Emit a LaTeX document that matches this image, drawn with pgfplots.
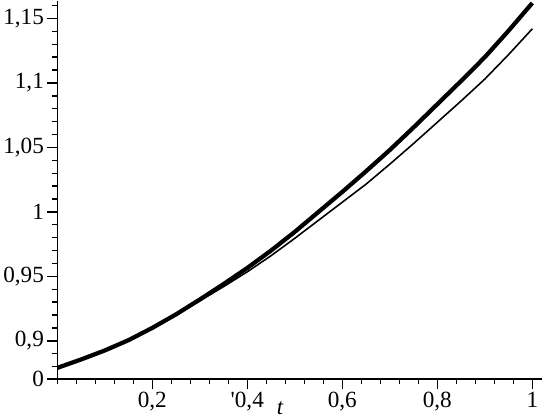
\documentclass[border=0pt]{standalone}
\usepackage{fontspec}
\setmainfont{Liberation Serif}
\usepackage{pgfplots}
\pgfplotsset{compat=1.18}

% values, t against the two solutions
\pgfplotstableread{
t     thick   thin
0.00  0.8790  0.8790
0.05  0.8855  0.8855
0.10  0.8925  0.8925
0.15  0.9005  0.9005
0.20  0.9100  0.9098
0.25  0.9205  0.9200
0.30  0.9320  0.9310
0.35  0.9440  0.9420
0.40  0.9565  0.9535
0.45  0.9700  0.9660
0.50  0.9845  0.9795
0.55  1.0000  0.9935
0.60  1.0155  1.0075
0.65  1.0315  1.0215
0.70  1.0480  1.0370
0.75  1.0655  1.0530
0.80  1.0835  1.0695
0.85  1.1015  1.0860
0.90  1.1200  1.1030
0.95  1.1405  1.1220
1.00  1.1620  1.1420
}\datatable

\begin{document}
\begin{tikzpicture}
\begin{axis}[
    scale only axis,
    width=490bp, height=382bp,
    xmin=0, xmax=1.021,
    ymin=0.8705, ymax=1.1638,
    axis lines=left,
    axis line style={-, line width=1.4pt},
    tick align=outside,
    major tick length=10bp,
    minor tick length=5bp,
    every tick/.style={black, line width=1.4pt},
    xtick={0.2,0.4,0.6,0.8,1},
    xticklabels={{0,2},{\textquotesingle0,4},{0,6},{0,8},1},
    minor xtick={0,0.04,...,1.02},
    ytick={0.8705,0.9,0.95,1,1.05,1.1,1.15},
    yticklabels={0,{0,9},{0,95},1,{1,05},{1,1},{1,15}},
    minor ytick={0.88,0.89,...,1.165},
    ticklabel style={font=\fontsize{23.5}{26}\selectfont},
    xlabel={\textit{t}},
    xlabel style={at={(axis description cs:0.46,0)}, anchor=north, yshift=-20bp, font=\fontsize{23}{25}\selectfont},
    clip=true,
]
\addplot[black, line width=4.3pt, line join=round] table[x=t, y=thick] {\datatable};
\addplot[black, line width=1.6pt, line join=round] table[x=t, y=thin] {\datatable};
\end{axis}
\end{tikzpicture}
\end{document}
